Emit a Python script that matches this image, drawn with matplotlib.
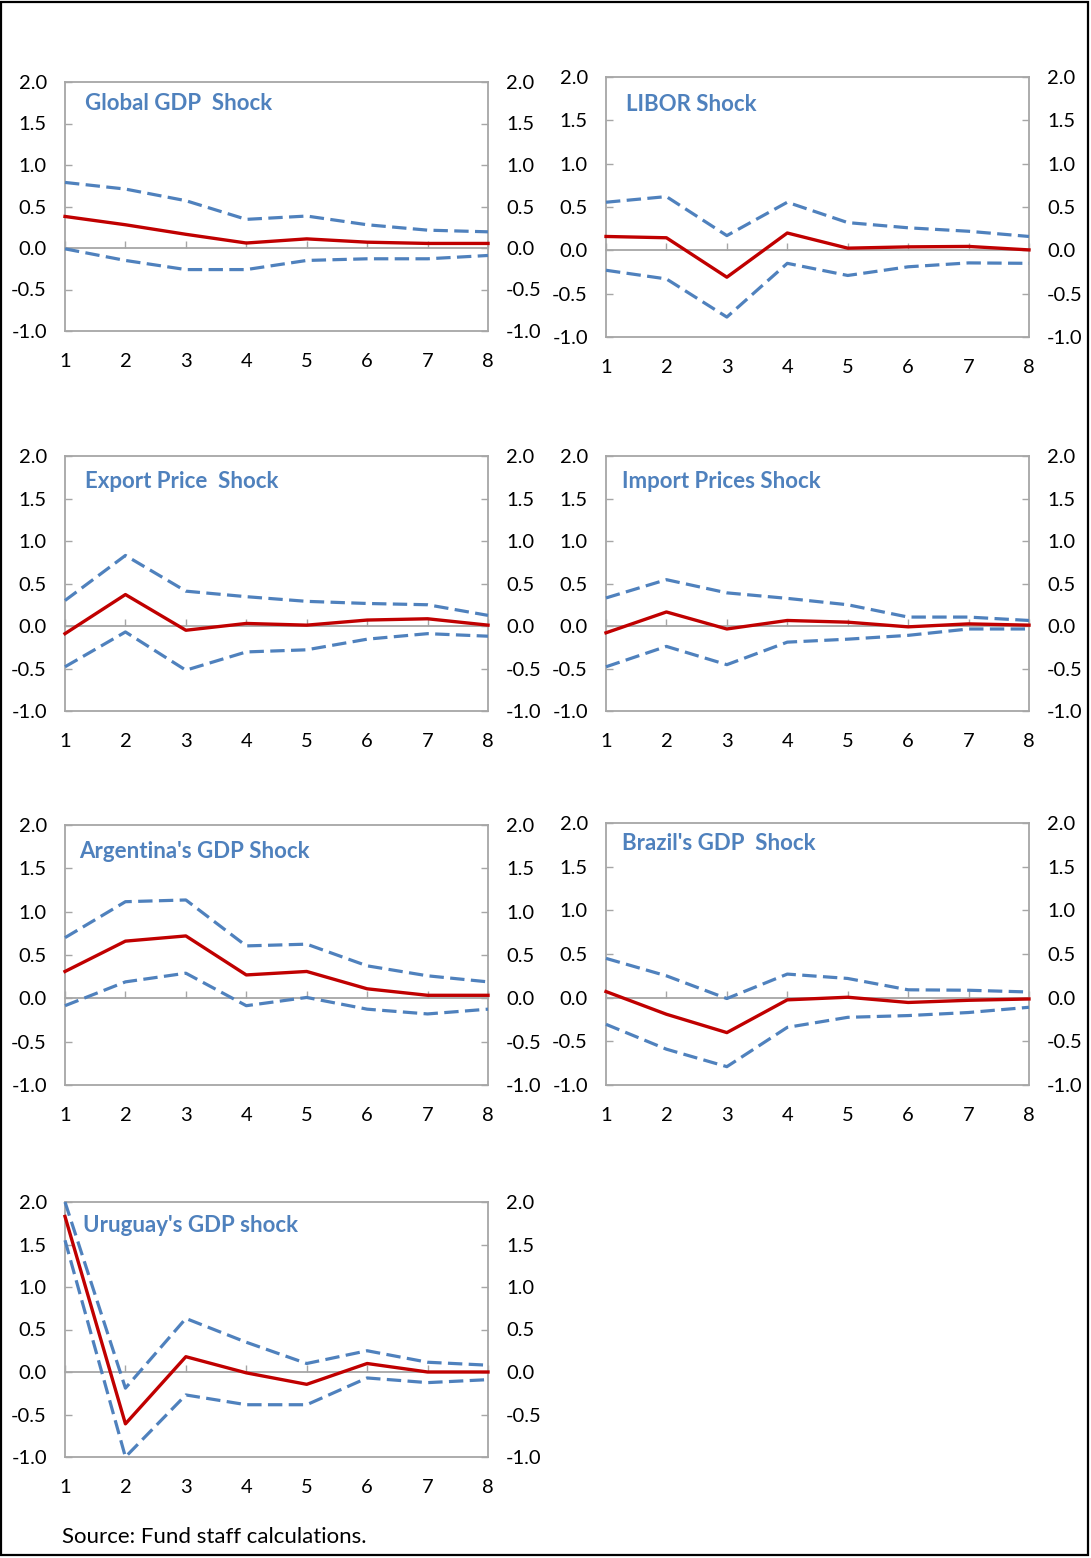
import matplotlib
matplotlib.use("Agg")
import matplotlib.pyplot as plt
from matplotlib.patches import Rectangle

plt.rcParams["font.family"] = ["Lato", "DejaVu Sans"]

# Quarters after the shock
QUARTERS = [1, 2, 3, 4, 5, 6, 7, 8]

TITLES = [
    "Global GDP  Shock",
    "LIBOR Shock",
    "Export Price  Shock",
    "Import Prices Shock",
    "Argentina's GDP Shock",
    "Brazil's GDP  Shock",
    "Uruguay's GDP shock",
]

# Impulse responses (median) and confidence bands
global_mid = [0.38, 0.28, 0.165, 0.06, 0.11, 0.07, 0.055, 0.055]
global_hi = [0.79, 0.71, 0.57, 0.345, 0.385, 0.28, 0.215, 0.195]
global_lo = [-0.01, -0.15, -0.26, -0.26, -0.15, -0.13, -0.13, -0.09]

libor_mid = [0.16, 0.145, -0.31, 0.20, 0.025, 0.04, 0.045, 0.005]
libor_hi = [0.555, 0.62, 0.17, 0.555, 0.32, 0.26, 0.22, 0.16]
libor_lo = [-0.23, -0.33, -0.77, -0.15, -0.29, -0.19, -0.145, -0.15]

export_mid = [-0.09, 0.37, -0.05, 0.03, 0.01, 0.07, 0.085, 0.01]
export_hi = [0.30, 0.83, 0.41, 0.345, 0.29, 0.265, 0.25, 0.125]
export_lo = [-0.48, -0.07, -0.52, -0.305, -0.28, -0.155, -0.09, -0.12]

import_mid = [-0.08, 0.165, -0.035, 0.065, 0.045, -0.01, 0.025, 0.01]
import_hi = [0.33, 0.545, 0.39, 0.325, 0.25, 0.105, 0.105, 0.065]
import_lo = [-0.48, -0.24, -0.455, -0.19, -0.155, -0.11, -0.035, -0.035]

arg_mid = [0.31, 0.66, 0.72, 0.27, 0.31, 0.11, 0.035, 0.035]
arg_hi = [0.70, 1.115, 1.135, 0.605, 0.625, 0.375, 0.26, 0.19]
arg_lo = [-0.085, 0.19, 0.29, -0.085, 0.01, -0.125, -0.18, -0.125]

bra_mid = [0.07, -0.19, -0.40, -0.025, 0.005, -0.055, -0.03, -0.015]
bra_hi = [0.45, 0.25, -0.01, 0.27, 0.22, 0.09, 0.085, 0.065]
bra_lo = [-0.305, -0.59, -0.79, -0.34, -0.225, -0.205, -0.17, -0.11]

uru_mid = [1.83, -0.61, 0.18, -0.01, -0.145, 0.10, 0.0, 0.0]
uru_hi = [2.0, -0.19, 0.63, 0.35, 0.10, 0.25, 0.115, 0.08]
uru_lo = [1.55, -1.0, -0.27, -0.385, -0.385, -0.07, -0.125, -0.09]

MIDS = [global_mid, libor_mid, export_mid, import_mid, arg_mid, bra_mid, uru_mid]
HIS = [global_hi, libor_hi, export_hi, import_hi, arg_hi, bra_hi, uru_hi]
LOS = [global_lo, libor_lo, export_lo, import_lo, arg_lo, bra_lo, uru_lo]

YTICKS = [-1.0, -0.5, 0.0, 0.5, 1.0, 1.5, 2.0]

RED = "#C00000"
BLUE = "#4F81BD"
GREY = "#A6A6A6"

W, H = 1091, 1558

# panel boxes in pixels: left, right, top, bottom
BOXES = [
    (65, 488, 82, 331),
    (606, 1029, 77, 337),
    (65, 488, 456, 711),
    (606, 1029, 456, 711),
    (65, 488, 825, 1085),
    (606, 1029, 823, 1085),
    (65, 488, 1202, 1457),
]
# title offset from the box's top-left corner, pixels
TITLE_OFFS = [(20, 21), (20, 28), (20, 25), (16, 25), (14, 26), (16, 21), (18, 23)]

fig = plt.figure(figsize=(W / 100, H / 100), dpi=100)

for i, (l, r, t, b) in enumerate(BOXES):
    ax = fig.add_axes([l / W, 1 - b / H, (r - l) / W, (b - t) / H])
    ax.plot(QUARTERS, HIS[i], color=BLUE, lw=2.3, ls=(0, (4.5, 2)), clip_on=False, zorder=3)
    ax.plot(QUARTERS, LOS[i], color=BLUE, lw=2.3, ls=(0, (4.5, 2)), clip_on=False, zorder=3)
    ax.plot(QUARTERS, MIDS[i], color=RED, lw=2.4, clip_on=False, zorder=4)

    ax.set_xlim(1, 8)
    ax.set_ylim(-1, 2)
    ax.set_xticks(QUARTERS)
    ax.set_xticklabels([str(q) for q in QUARTERS])
    ax.set_yticks(YTICKS)
    ax.set_yticklabels([f"{v:.1f}" for v in YTICKS])
    ax.tick_params(axis="x", length=0, pad=16, labelsize=14.5, colors="black")
    ax.tick_params(axis="y", direction="in", length=5, width=1, color=GREY,
                   left=True, right=True, labelleft=True, labelright=True,
                   labelsize=14.5, pad=13)
    for sp in ax.spines.values():
        sp.set_color(GREY)
        sp.set_linewidth(1.3)

    # category axis drawn through zero
    zero = ax.secondary_xaxis(1 / 3)
    zero.set_xticks(QUARTERS)
    zero.tick_params(direction="in", length=5, width=1, color=GREY, labelbottom=False)
    zero.spines["bottom"].set_color(GREY)
    zero.spines["bottom"].set_linewidth(1.3)

    dx, dy = TITLE_OFFS[i]
    ax.annotate(TITLES[i], xy=(0, 1), xycoords="axes fraction",
                xytext=(dx * 0.72, -dy * 0.72), textcoords="offset points",
                ha="left", va="center", fontsize=16, fontweight="bold", color=BLUE)

fig.text(62 / W, 1 - 1537 / H, "Source: Fund staff calculations.", fontsize=16,
         ha="left", va="center", color="black")

fig.add_artist(Rectangle((0.001, 0.002), 0.996, 0.997, transform=fig.transFigure,
                         fill=False, lw=1.6, ec="black"))

fig.savefig("out.png", dpi=100, facecolor="white")
